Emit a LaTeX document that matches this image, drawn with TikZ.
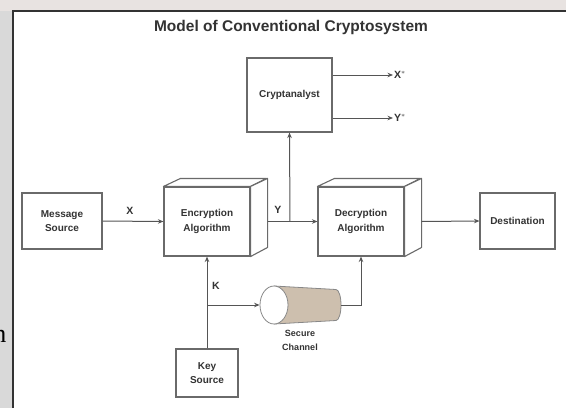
\documentclass[tikz,border=0pt]{standalone}
\usepackage{fontspec}
\setmainfont{Liberation Sans}
\newfontfamily\serifn{Liberation Serif}
\usetikzlibrary{arrows.meta,shapes.geometric,calc}
\definecolor{linegray}{HTML}{555555}
\definecolor{boxgray}{HTML}{6A6A6A}
\definecolor{txtgray}{HTML}{333333}
\definecolor{tubefill}{HTML}{CDBFAE}
\definecolor{sidegray}{HTML}{D9D9D9}
\definecolor{topstrip}{HTML}{E8E3E1}
\tikzset{
  box/.style={draw=boxgray, line width=1.1pt, fill=white, align=center, text=txtgray,
    font=\bfseries\fontsize{10}{14.5}\selectfont, inner sep=0pt},
  conn/.style={draw=linegray, line width=1pt},
  arr/.style={conn, -{Stealth[length=5.5pt,width=4.5pt]}},
  lbl/.style={text=txtgray, font=\bfseries\fontsize{10.5}{12}\selectfont, inner sep=1pt},
  face/.style={draw=boxgray, line width=1.1pt, fill=white, line join=round}
}
\begin{document}
\begin{tikzpicture}[x=1pt,y=-1pt]
\useasboundingbox (0,0) rectangle (566,408);
% surroundings of the screenshot
\fill[sidegray] (0,0) rectangle (13,408);
\fill[topstrip] (0,0) rectangle (566,11);
\fill[white] (13,11) rectangle (566,408);
\node[anchor=east, inner sep=0pt, font=\serifn\fontsize{26}{26}\selectfont, text=black] (nfrag) at (6.5,336) {n};
\draw[line width=1.6pt, draw=black!80] (13,408) -- (13,11) -- (566,11);

% title
\node[text=txtgray, font=\bfseries\fontsize{15.5}{18}\selectfont] (title) at (291,27) {Model of Conventional Cryptosystem};

% plain boxes
\node[box, minimum width=80pt, minimum height=56pt] (msg) at (62,221) {Message\\Source};
\node[box, minimum width=75pt, minimum height=56pt] (dest) at (517.5,221) {Destination};
\node[box, minimum width=85pt, minimum height=74pt] (crypt) at (289.5,95) {Cryptanalyst};
\node[box, minimum width=62pt, minimum height=48pt] (key) at (207,373) {Key\\Source};

% 3D boxes
\node[box, minimum width=86pt, minimum height=69pt] (enc) at (207,221.5) {Encryption\\Algorithm};
\node[box, minimum width=86pt, minimum height=69pt] (dec) at (361,221.5) {Decryption\\Algorithm};
\foreach \b in {enc,dec}{
  \path[face] (\b.north west) -- ++(17,-8) -- ++(86,0) -- (\b.north east) -- cycle;
  \path[face] (\b.north east) -- ++(17,-8) -- ++(0,69) -- (\b.south east) -- cycle;
}
\coordinate (encout) at ([xshift=17pt]enc.east);
\coordinate (decout) at ([xshift=17pt]dec.east);
\coordinate (J) at (290,221.5);

% secure channel (cylinder)
\fill[tubefill] (274,286) -- (336,289.5) arc[start angle=90, end angle=-90, x radius=5pt, y radius=15.5pt] -- (274,324) -- cycle;
\draw[draw=boxgray!80, line width=0.8pt] (274,286) -- (336,289.5) arc[start angle=90, end angle=-90, x radius=5pt, y radius=15.5pt] -- (274,324);
\node[ellipse, draw=boxgray!80, line width=0.8pt, fill=white, minimum width=28pt, minimum height=38pt, inner sep=0pt] (chanL) at (274,305) {};
\coordinate (chanR) at (341,305);
\node[text=txtgray, align=center, font=\bfseries\fontsize{9}{14}\selectfont] (chanlbl) at (300,340.5) {Secure\\Channel};
\coordinate (kj) at (207,305);

% connectors
\draw[arr] (msg.east) -- (enc.west);
\node[lbl] (X) at (130,211) {X};
\draw[conn] (encout) -- (J);
\node[lbl] (Y) at (278,210) {Y};
\draw[arr] (J) -- (dec.west);
\draw[arr] (J) -- (crypt.south);
\draw[arr] (decout) -- (dest.west);
\node[lbl, anchor=west] (Xs) at (393,75) {X$^{*}$};
\node[lbl, anchor=west] (Ys) at (393,118) {Y$^{*}$};
\draw[arr] (crypt.east |- Xs.west) -- (Xs.west);
\draw[arr] (crypt.east |- Ys.west) -- (Ys.west);
\draw[arr] (key.north) -- (enc.south);
\node[lbl] (K) at (216,286) {K};
\draw[arr] (kj) -- (chanL.west);
\draw[arr] (chanR) -| (dec.south);
\end{tikzpicture}
\end{document}
